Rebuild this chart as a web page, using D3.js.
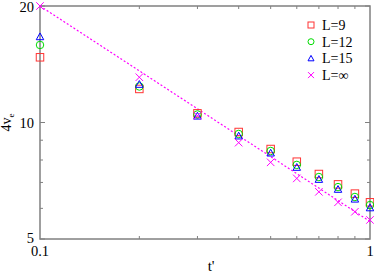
<!DOCTYPE html>
<html>
<head>
<meta charset="UTF-8">
<style>
  body { margin: 0; background: #fff; }
  text { font-family: "Liberation Serif", "DejaVu Serif", serif; }
</style>
</head>
<body>
<div id="chart"></div>
<script src="https://d3js.org/d3.v7.min.js"></script>
<script>
// data
const tValues = [0.1, 0.2, 0.3, 0.4, 0.5, 0.6, 0.7, 0.8, 0.9, 1.0];
const L9   = [14.74, 12.21, 10.56, 9.45, 8.54, 7.92, 7.36, 6.92, 6.55, 6.22];
const L12  = [15.86, 12.39, 10.49, 9.34, 8.44, 7.77, 7.23, 6.81, 6.42, 6.12];
const L15  = [16.66, 12.55, 10.39, 9.23, 8.34, 7.66, 7.13, 6.72, 6.34, 6.02];
const Linf = [20.0, 13.09, 10.41, 8.87, 7.89, 7.17, 6.62, 6.22, 5.88, 5.60];
const fitLine = [[0.1, 20.0], [1.0, 5.55]];
const yTickLabels = [5, 10, 20];
const yMinor = [6, 7, 8, 9];
const xTickLabels = [0.1, 1];
const xMinor = [0.2, 0.3, 0.4, 0.5, 0.6, 0.7, 0.8, 0.9];

const W = 374, H = 273;
const margin = { top: 6, right: 4, bottom: 34, left: 40 };
const width = W - margin.left - margin.right,
      height = H - margin.top - margin.bottom;

const svg = d3.select("#chart").append("svg")
    .attr("width", W).attr("height", H);
const g = svg.append("g")
    .attr("transform", "translate(" + margin.left + "," + margin.top + ")");

const x = d3.scaleLog().domain([0.1, 1]).range([0, width]);
const y = d3.scaleLog().domain([5, 20]).range([height, 0]);

// ticks (inward, on all four sides)
const axisColor = "#808080";
const major = 5, minor = 3;
function vTick(v, len) {
  g.append("line").attr("x1", x(v)).attr("x2", x(v)).attr("y1", height).attr("y2", height - len)
    .attr("stroke", axisColor);
  g.append("line").attr("x1", x(v)).attr("x2", x(v)).attr("y1", 0).attr("y2", len)
    .attr("stroke", axisColor);
}
function hTick(v, len) {
  g.append("line").attr("y1", y(v)).attr("y2", y(v)).attr("x1", 0).attr("x2", len)
    .attr("stroke", axisColor);
  g.append("line").attr("y1", y(v)).attr("y2", y(v)).attr("x1", width).attr("x2", width - len)
    .attr("stroke", axisColor);
}
xMinor.forEach(v => vTick(v, minor));
yMinor.forEach(v => hTick(v, minor));
yTickLabels.forEach(v => hTick(v, major));

// frame
g.append("rect").attr("width", width).attr("height", height)
  .attr("fill", "none").attr("stroke", axisColor).attr("stroke-width", 1.5);

// tick labels
const yDy = { 5: "0.25em", 10: "0.35em", 20: "0.42em" };
g.selectAll(".yl").data(yTickLabels).enter().append("text")
  .attr("x", -6).attr("y", d => y(d)).attr("dy", d => yDy[d])
  .attr("text-anchor", "end").attr("font-size", 14.5).text(d => d);
g.selectAll(".xl").data(xTickLabels).enter().append("text")
  .attr("x", d => x(d)).attr("y", height + 17)
  .attr("text-anchor", "middle").attr("font-size", 14.5).text(d => d);

// axis titles
g.append("text").attr("x", x(0.33)).attr("y", height + 32)
  .attr("text-anchor", "middle").attr("font-size", 15).text("t'");
const yl = g.append("text")
  .attr("transform", "translate(-29," + y(10) + ") rotate(-90)")
  .attr("text-anchor", "middle").attr("font-size", 14);
yl.append("tspan").text("4v");
yl.append("tspan").attr("font-size", 9).attr("dy", 3).text("e");

// fit line
g.append("path")
  .datum(fitLine)
  .attr("d", d3.line().x(d => x(d[0])).y(d => y(d[1])))
  .attr("fill", "none").attr("stroke", "#ff00ff")
  .attr("stroke-width", 1.2).attr("stroke-dasharray", "2,2");

// markers
const sym = {
  square: (s, cx, cy, sz, c) => s.append("rect").attr("x", cx - sz / 2).attr("y", cy - sz / 2)
    .attr("width", sz).attr("height", sz).attr("fill", "none").attr("stroke", c),
  circle: (s, cx, cy, sz, c) => s.append("circle").attr("cx", cx).attr("cy", cy)
    .attr("r", sz / 2).attr("fill", "none").attr("stroke", c),
  triangle: (s, cx, cy, sz, c) => s.append("path")
    .attr("d", "M" + (cx - sz / 2) + "," + (cy + sz * 0.4) + "L" + (cx + sz / 2) + "," + (cy + sz * 0.4) +
      "L" + cx + "," + (cy - sz * 0.5) + "Z")
    .attr("fill", "none").attr("stroke", c),
  cross: (s, cx, cy, sz, c) => s.append("path")
    .attr("d", "M" + (cx - sz / 2) + "," + (cy - sz / 2) + "L" + (cx + sz / 2) + "," + (cy + sz / 2) +
      "M" + (cx - sz / 2) + "," + (cy + sz / 2) + "L" + (cx + sz / 2) + "," + (cy - sz / 2))
    .attr("fill", "none").attr("stroke", c)
};

const series = [
  { name: "L=9", values: L9, shape: "square", color: "#ff3333" },
  { name: "L=12", values: L12, shape: "circle", color: "#00dd00" },
  { name: "L=15", values: L15, shape: "triangle", color: "#0000ff" },
  { name: "L=\u221e", values: Linf, shape: "cross", color: "#ff00ff" }
];

series.forEach(s => {
  const grp = g.append("g");
  s.values.forEach((v, i) => sym[s.shape](grp, x(tValues[i]), y(v), 7.5, s.color));
});

// legend
const legend = g.append("g").attr("transform", "translate(" + (width - 59) + ",19)");
series.forEach((s, i) => {
  const ly = i * 16.7;
  sym[s.shape](legend, 0, ly, 6, s.color);
  legend.append("text").attr("x", 11).attr("y", ly).attr("dy", "0.35em")
    .attr("font-size", 14).text(s.name);
});
</script>
</body>
</html>
